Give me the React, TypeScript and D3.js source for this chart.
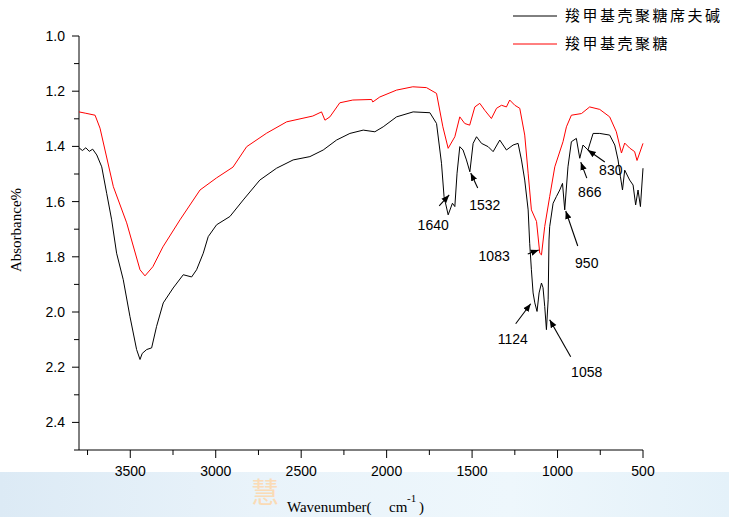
import React, { useRef, useEffect } from 'react';
import * as d3 from 'd3';

// 羧甲基壳聚糖席夫碱 (black)
const schiffWavenumber = [3800, 3780, 3760, 3740, 3720, 3696, 3667, 3638, 3609, 3580, 3541, 3502, 3463, 3443, 3430, 3404, 3375, 3346, 3307, 3249, 3190, 3141, 3112, 3073, 3044, 2995, 2917, 2839, 2742, 2644, 2547, 2449, 2371, 2293, 2215, 2137, 2069, 2020, 1942, 1845, 1747, 1708, 1679, 1664, 1640, 1615, 1601, 1588, 1572, 1553, 1533, 1513, 1494, 1474, 1445, 1406, 1377, 1338, 1299, 1260, 1231, 1211, 1192, 1172, 1163, 1153, 1143, 1133, 1120, 1108, 1094, 1085, 1075, 1065, 1055, 1050, 1046, 1026, 1007, 987, 971, 958, 939, 919, 890, 870, 851, 822, 792, 753, 695, 665, 646, 632, 620, 607, 578, 558, 543, 529, 515, 500];
const schiffAbsorbance = [1.405, 1.415, 1.405, 1.418, 1.41, 1.431, 1.474, 1.57, 1.666, 1.787, 1.883, 2.016, 2.136, 2.172, 2.15, 2.136, 2.13, 2.052, 1.967, 1.913, 1.865, 1.873, 1.847, 1.787, 1.727, 1.684, 1.654, 1.594, 1.522, 1.479, 1.449, 1.437, 1.413, 1.377, 1.353, 1.341, 1.347, 1.329, 1.293, 1.275, 1.278, 1.317, 1.461, 1.582, 1.648, 1.606, 1.618, 1.497, 1.401, 1.413, 1.449, 1.492, 1.389, 1.365, 1.389, 1.401, 1.419, 1.377, 1.413, 1.395, 1.389, 1.449, 1.522, 1.63, 1.751, 1.847, 1.931, 1.967, 1.998, 1.931, 1.895, 1.912, 1.98, 2.064, 1.956, 1.739, 1.691, 1.606, 1.582, 1.558, 1.534, 1.63, 1.474, 1.383, 1.371, 1.443, 1.395, 1.413, 1.353, 1.353, 1.359, 1.395, 1.449, 1.51, 1.558, 1.486, 1.522, 1.54, 1.612, 1.558, 1.618, 1.479];

// 羧甲基壳聚糖 (red)
const cmcsWavenumber = [3800, 3760, 3706, 3677, 3599, 3521, 3443, 3414, 3368, 3309, 3209, 3092, 2995, 2899, 2819, 2702, 2585, 2432, 2381, 2361, 2332, 2274, 2198, 2088, 2081, 2040, 1942, 1847, 1767, 1708, 1671, 1640, 1601, 1572, 1543, 1514, 1484, 1455, 1426, 1387, 1357, 1328, 1299, 1280, 1250, 1221, 1192, 1172, 1153, 1123, 1104, 1094, 1075, 1046, 1016, 968, 948, 919, 860, 812, 753, 695, 656, 626, 607, 578, 549, 535, 500];
const cmcsAbsorbance = [1.275, 1.28, 1.287, 1.334, 1.546, 1.677, 1.847, 1.869, 1.836, 1.764, 1.666, 1.558, 1.514, 1.475, 1.401, 1.352, 1.311, 1.29, 1.275, 1.305, 1.293, 1.242, 1.232, 1.23, 1.239, 1.221, 1.196, 1.184, 1.187, 1.208, 1.329, 1.407, 1.365, 1.293, 1.317, 1.323, 1.257, 1.244, 1.269, 1.299, 1.262, 1.251, 1.257, 1.232, 1.251, 1.262, 1.359, 1.497, 1.63, 1.672, 1.787, 1.793, 1.69, 1.582, 1.474, 1.383, 1.329, 1.287, 1.281, 1.257, 1.266, 1.293, 1.347, 1.424, 1.388, 1.406, 1.419, 1.451, 1.389];

const seriesNames = ['羧甲基壳聚糖席夫碱', '羧甲基壳聚糖'];

// peak annotations: label, and the point the arrow touches
const peakLabels = ['1640', '1532', '1083', '1124', '1058', '950', '866', '830'];
const peakWavenumber = [1634, 1508, 1110, 1157, 1046, 952, 864, 823];
const peakAbsorbance = [1.576, 1.496, 1.775, 1.97, 2.028, 1.634, 1.457, 1.413];

const xMajorTicks = [3500, 3000, 2500, 2000, 1500, 1000, 500];
const xMinorTicks = [3750, 3250, 2750, 2250, 1750, 1250, 750];
const yMajorTicks = [1.0, 1.2, 1.4, 1.6, 1.8, 2.0, 2.2, 2.4];
const yMinorTicks = [1.1, 1.3, 1.5, 1.7, 1.9, 2.1, 2.3, 2.5];

// arrow tail and label offsets (px) from each arrow tip
const tailOffset = [[-10, 11], [7, 15], [-11, 4], [-15, 20], [21, 37], [12, 35], [6, 16], [17, 12]];
const labelOffset = [[-16, 35], [14, 37], [-29, 11], [-18, 40], [37, 57], [21, 57], [9, 35], [23, 25]];

function App() {
  const canvas = useRef<SVGSVGElement>(null);

  const width = 729;
  const height = 517;
  const left = 79;
  const right = 643;
  const top = 36;
  const bottom = 450;

  const xScale = d3.scaleLinear().domain([3800, 500]).range([left, right]);
  const yScale = d3.scaleLinear().domain([1.0, 2.5]).range([top, bottom]);

  useEffect(() => {
    const svg = d3.select(canvas.current);
    svg.selectAll('*').remove();

    const defs = svg.append('defs');
    const grad = defs.append('linearGradient').attr('id', 'band');
    grad.append('stop').attr('offset', '0%').attr('stop-color', '#dceaf5');
    grad.append('stop').attr('offset', '35%').attr('stop-color', '#e9f3fa');
    grad.append('stop').attr('offset', '70%').attr('stop-color', '#eef7fc');
    grad.append('stop').attr('offset', '100%').attr('stop-color', '#e4f1f9');
    defs.append('marker')
      .attr('id', 'arrow')
      .attr('markerUnits', 'userSpaceOnUse')
      .attr('markerWidth', 9).attr('markerHeight', 8)
      .attr('refX', 8).attr('refY', 4)
      .attr('orient', 'auto')
      .append('path')
      .attr('d', 'M0,0.8 L8,4 L0,7.2 Z')
      .attr('fill', '#000');

    svg.append('rect').attr('width', width).attr('height', height).attr('fill', '#fff');
    svg.append('rect').attr('y', 472).attr('width', width).attr('height', height - 472).attr('fill', 'url(#band)');
    svg.append('text')
      .attr('x', 251).attr('y', 503)
      .attr('font-family', 'Noto Sans CJK SC').attr('font-size', 28)
      .attr('fill', '#ffd6a6').attr('opacity', 0.8)
      .text('慧');

    // axes
    const axis = svg.append('g').attr('stroke', '#000').attr('stroke-width', 1);
    axis.append('line').attr('x1', left).attr('x2', left).attr('y1', top).attr('y2', bottom);
    axis.append('line').attr('x1', left).attr('x2', right).attr('y1', bottom).attr('y2', bottom);
    axis.selectAll('.xmaj').data(xMajorTicks).enter().append('line')
      .attr('x1', d => xScale(d)).attr('x2', d => xScale(d)).attr('y1', bottom).attr('y2', bottom + 8);
    axis.selectAll('.xmin').data(xMinorTicks).enter().append('line')
      .attr('x1', d => xScale(d)).attr('x2', d => xScale(d)).attr('y1', bottom).attr('y2', bottom + 5);
    axis.selectAll('.ymaj').data(yMajorTicks).enter().append('line')
      .attr('x1', left - 7).attr('x2', left).attr('y1', d => yScale(d)).attr('y2', d => yScale(d));
    axis.selectAll('.ymin').data(yMinorTicks).enter().append('line')
      .attr('x1', left - 5).attr('x2', left).attr('y1', d => yScale(d)).attr('y2', d => yScale(d));

    const tickFont = 'Liberation Sans, Arial, sans-serif';
    svg.append('g').selectAll('text').data(xMajorTicks).enter().append('text')
      .attr('x', d => xScale(d)).attr('y', 476)
      .attr('text-anchor', 'middle').attr('font-family', tickFont).attr('font-size', 14)
      .text(d => d);
    svg.append('g').selectAll('text').data(yMajorTicks).enter().append('text')
      .attr('x', 65).attr('y', d => yScale(d) + 5)
      .attr('text-anchor', 'end').attr('font-family', tickFont).attr('font-size', 14)
      .text(d => d.toFixed(1));

    // axis titles
    svg.append('text')
      .attr('transform', 'translate(21,230) rotate(-90)')
      .attr('text-anchor', 'middle').attr('font-family', 'Liberation Serif, serif').attr('font-size', 15)
      .text('Absorbance%');
    const xt = svg.append('text').attr('font-family', 'Liberation Serif, serif').attr('font-size', 15);
    xt.append('tspan').attr('x', 287).attr('y', 512).text('Wavenumber(');
    xt.append('tspan').attr('x', 389).attr('y', 512).text('cm');
    xt.append('tspan').attr('x', 407).attr('y', 502).attr('font-size', 11).text('-1');
    xt.append('tspan').attr('x', 419).attr('y', 512).text(')');

    // spectra
    const line = d3.line<[number, number]>()
      .x(d => xScale(d[0]))
      .y(d => yScale(d[1]));
    const schiff = schiffWavenumber.map((w, i) => [w, schiffAbsorbance[i]] as [number, number]);
    const cmcs = cmcsWavenumber.map((w, i) => [w, cmcsAbsorbance[i]] as [number, number]);
    svg.append('path').attr('d', line(cmcs)).attr('fill', 'none').attr('stroke', '#ff0000').attr('stroke-width', 1);
    svg.append('path').attr('d', line(schiff)).attr('fill', 'none').attr('stroke', '#000').attr('stroke-width', 1);

    // annotations
    const ann = svg.append('g');
    peakLabels.forEach((label, i) => {
      const tx = xScale(peakWavenumber[i]);
      const ty = yScale(peakAbsorbance[i]);
      ann.append('line')
        .attr('x1', tx + tailOffset[i][0]).attr('y1', ty + tailOffset[i][1])
        .attr('x2', tx).attr('y2', ty)
        .attr('stroke', '#000').attr('stroke-width', 1.1)
        .attr('marker-end', 'url(#arrow)');
      ann.append('text')
        .attr('x', tx + labelOffset[i][0]).attr('y', ty + labelOffset[i][1])
        .attr('text-anchor', label === '1083' ? 'end' : 'middle')
        .attr('font-family', tickFont).attr('font-size', 14)
        .text(label);
    });

    // legend
    const colors = ['#000', '#ff0000'];
    const legend = svg.append('g');
    seriesNames.forEach((name, i) => {
      const y = 16 + i * 28;
      legend.append('line').attr('x1', 513).attr('x2', 557).attr('y1', y).attr('y2', y)
        .attr('stroke', colors[i]).attr('stroke-width', 1);
      legend.append('text').attr('x', 565).attr('y', y + 5)
        .attr('font-family', 'Noto Sans CJK SC').attr('font-size', 15)
        .attr('letter-spacing', 2.5)
        .text(name);
    });
  });

  return (
    <svg ref={canvas} width={width} height={height}
      style={{ position: 'absolute', left: 0, top: 0, display: 'block' }} />
  );
}

export default App;
